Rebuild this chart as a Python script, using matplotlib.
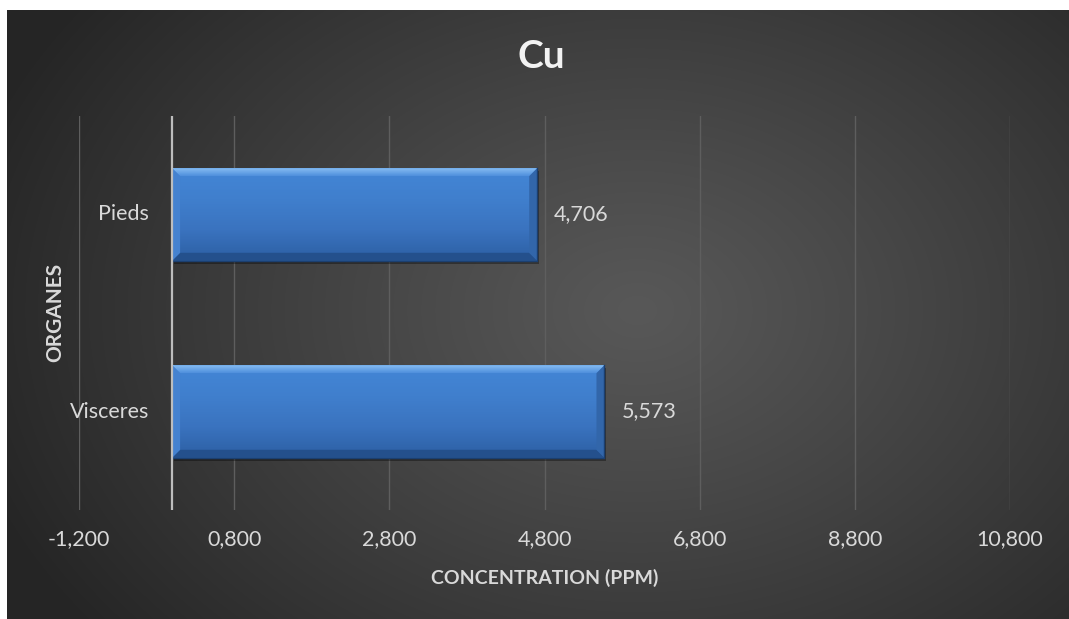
import numpy as np
import matplotlib
matplotlib.use("Agg")
import matplotlib.pyplot as plt
from matplotlib.patches import Polygon
from matplotlib.colors import LinearSegmentedColormap

plt.rcParams['font.family'] = ['Lato', 'DejaVu Sans']

# Data
organes = ["Visceres", "Pieds"]
concentration = [5.573, 4.706]
x_ticks = [-1.2, 0.8, 2.8, 4.8, 6.8, 8.8, 10.8]

W, H = 1069, 619
fig = plt.figure(figsize=(W / 100, H / 100), dpi=100, facecolor="white")

# Dark radial background panel
bg = fig.add_axes([7 / W, 0, 1 - 7 / W, 1 - 10 / H], zorder=-10)
bg.set_axis_off()
yy, xx = np.mgrid[0:609, 0:1062]
cx, cy = 630, 300
r = np.sqrt(((xx - cx) / 700.0) ** 2 + ((yy - cy) / 520.0) ** 2)
r = np.clip(r, 0, 1)
lum = 0x58 + (0x25 - 0x58) * r ** 1.1
img = np.dstack([lum, lum, lum]) / 255.0
bg.imshow(img, aspect="auto", interpolation="bilinear")

ax = fig.add_axes([79 / W, (H - 510) / H, (1010 - 79) / W, (510 - 116) / H])
ax.set_facecolor("none")
for s in ax.spines.values():
    s.set_visible(False)

ax.set_xlim(x_ticks[0], x_ticks[-1])
ax.set_ylim(-0.5, len(organes) - 0.5)

# Gridlines and value axis line
for t in x_ticks:
    ax.axvline(t, color="#5e5e5e", lw=1.0, zorder=0)
ax.axvline(0, color="#bdbdbd", lw=1.6, zorder=4)

bar_h = 0.47
bars = ax.barh(range(len(organes)), concentration, height=bar_h,
               color="#3f7fcf", edgecolor="none", zorder=2)

# Per-pixel sizes in data units for bevel/shadow
px_x = (x_ticks[-1] - x_ticks[0]) / (1010 - 79)
px_y = len(organes) / (510 - 116)

grad = LinearSegmentedColormap.from_list(
    "barfill", ["#2c5fa3", "#3a73bf", "#407fcd", "#4386d6"])
top_grad = LinearSegmentedColormap.from_list("topbevel", ["#4f8fdc", "#86bdf3"])

for b in bars:
    x0, y0, w, h = b.get_x(), b.get_y(), b.get_width(), b.get_height()
    x1, y1 = x0 + w, y0 + h
    # drop shadow
    ax.add_patch(plt.Rectangle((x0 + 2 * px_x, y0 - 3 * px_y), w, h,
                               color="black", alpha=0.35, lw=0, zorder=1.5))
    # vertical gradient body
    g = np.linspace(0, 1, 100).reshape(-1, 1)
    ax.imshow(g, cmap=grad, extent=[x0, x1, y0, y1], origin="lower",
              aspect="auto", zorder=2.1, interpolation="bilinear")
    bx, by = 8 * px_x, 8 * px_y
    # bevel: top highlight
    top = Polygon([(x0, y1), (x1, y1), (x1 - bx, y1 - by), (x0 + bx, y1 - by)],
                  closed=True, lw=0, facecolor="none", zorder=2.3)
    ax.add_patch(top)
    tb = ax.imshow(np.linspace(0, 1, 50).reshape(-1, 1), cmap=top_grad,
                   extent=[x0, x1, y1 - by, y1], origin="lower", aspect="auto",
                   zorder=2.3, interpolation="bilinear")
    tb.set_clip_path(top)
    # bevel: bottom shade
    ax.add_patch(Polygon([(x0, y0), (x1, y0), (x1 - bx, y0 + by), (x0 + bx, y0 + by)],
                         closed=True, color="#24508c", lw=0, zorder=2.3))
    # bevel: right shade
    ax.add_patch(Polygon([(x1, y0), (x1, y1), (x1 - bx, y1 - by), (x1 - bx, y0 + by)],
                         closed=True, color="#3266aa", lw=0, zorder=2.3))
    # bevel: left edge
    ax.add_patch(Polygon([(x0, y0), (x0, y1), (x0 + bx, y1 - by), (x0 + bx, y0 + by)],
                         closed=True, color="#4582d0", lw=0, zorder=2.3))
    ax.plot([x0, x1, x1], [y0, y0, y1], color="#1b3f70", lw=1.0, zorder=2.4)

# Value labels with decimal comma
for b, v in zip(bars, concentration):
    ax.annotate(f"{v:.3f}".replace(".", ","),
                (b.get_x() + b.get_width(), b.get_y() + b.get_height() / 2),
                xytext=(17, 0), textcoords="offset pixels",
                va="center", ha="left", fontsize=15.5, color="#d9d9d9", zorder=5)

# Category labels sit beside the value axis at x = 0
for i, name in enumerate(organes):
    ax.annotate(name, (0, i), xytext=(-23, 0), textcoords="offset pixels",
                ha="right", va="center", fontsize=15.5, color="#d9d9d9",
                annotation_clip=False)
ax.set_yticks([])

ax.set_xticks(x_ticks)
ax.set_xticklabels([f"{t:.3f}".replace(".", ",") for t in x_ticks])
ax.tick_params(axis="x", length=0, labelsize=15.5, labelcolor="#d9d9d9", pad=14)

ax.set_xlabel("CONCENTRATION (PPM)", fontsize=14, fontweight="bold",
              color="#d9d9d9", labelpad=14)
fig.text(55 / W, 1 - 312 / H, "ORGANES", rotation=90, ha="center", va="center",
         fontsize=15, fontweight="bold", color="#d9d9d9")

fig.text(541 / W, 1 - 57 / H, "Cu", ha="center", va="center", fontsize=28,
         fontweight="bold", color="#f2f2f2")

fig.savefig("out.png", dpi=100, facecolor="white")
